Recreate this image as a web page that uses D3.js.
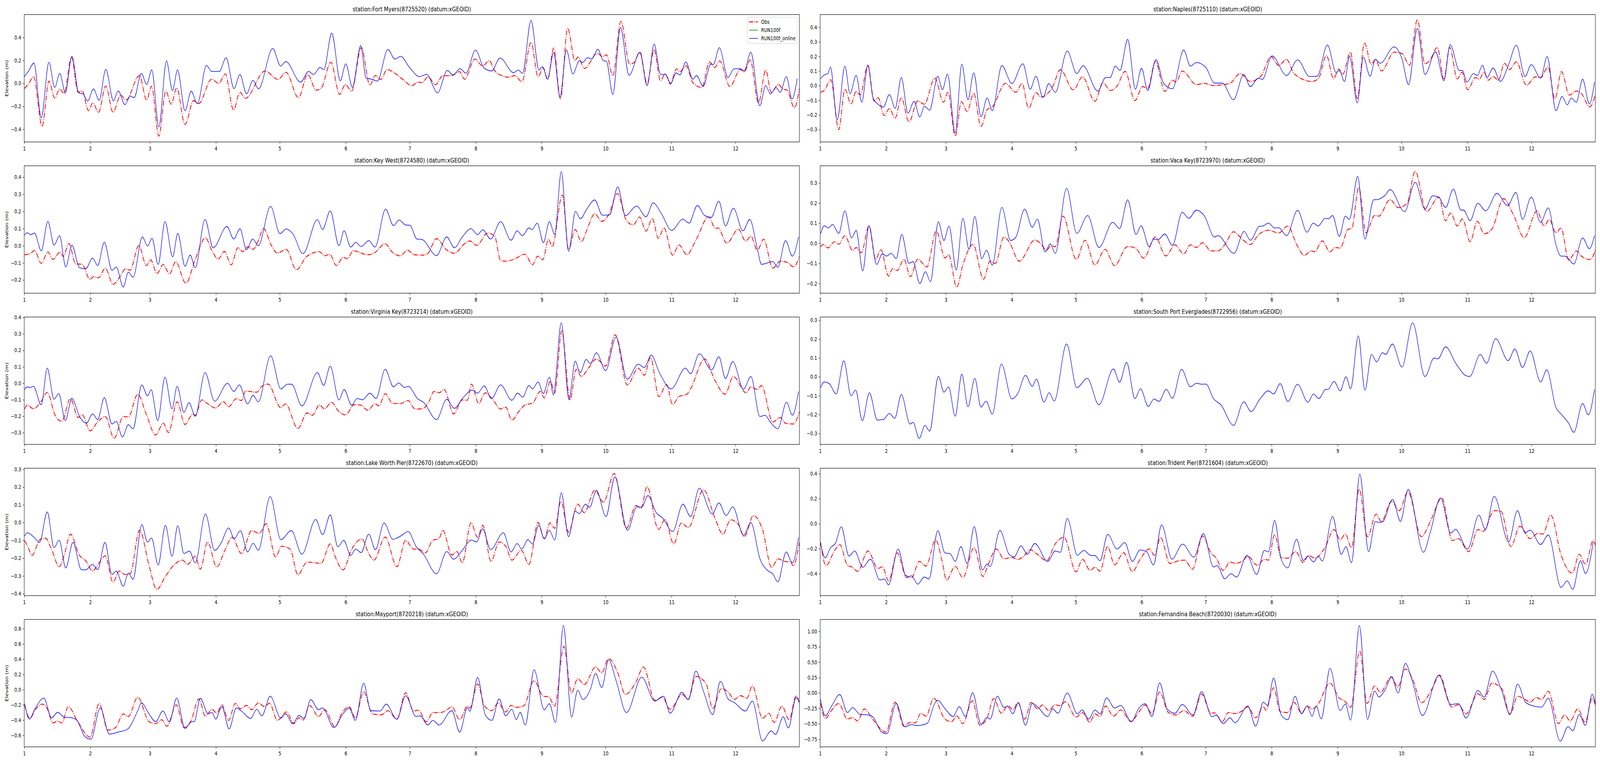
<!DOCTYPE html>
<html>
<head>
<meta charset="utf-8">
<script src="https://cdn.jsdelivr.net/npm/d3@7"></script>
<style>
  html, body { margin: 0; padding: 0; background: #fff; overflow: hidden; }
  svg { display: block; width: 100vw; height: 100vh; font-family: "DejaVu Sans", sans-serif; }
</style>
</head>
<body>
<div id="chart"></div>
<script>
// day of year (0 = Jan 1) and elevation (m) at turning points
const fortMyersObs = [[0,-0.045],[1.9,-0.009],[4.4,0.059],[8.4,-0.374],[11.6,0.02],[14.3,-0.127],[16.7,-0.048],[18.7,-0.088],[22.2,0.227],[25.3,-0.077],[27.2,-0.065],[30.2,-0.238],[32.2,-0.17],[34.9,-0.252],[38.3,-0.023],[41.7,-0.252],[45.3,-0.102],[47.8,-0.145],[54.1,0.068],[57.5,-0.145],[59.8,-0.025],[63.2,-0.459],[66.5,-0.065],[69,-0.181],[71.6,-0.04],[75.5,-0.357],[79.5,-0.15],[81.9,-0.176],[88,0.036],[91.4,0],[94.4,0.082],[98.3,-0.232],[101.3,-0.077],[103.8,-0.13],[113.1,0.108],[119.2,0.034],[122.9,0.096],[128.8,-0.125],[133.1,0.079],[137.1,-0.059],[139.5,-0.04],[144,0.184],[148.1,-0.096],[150.8,-0.009],[153.7,-0.068],[158.3,0.312],[162.3,-0.015],[165,0.07],[167.4,0.034],[170.4,0.121],[172.8,0.104],[177.7,0.036],[182,-0.02],[184.8,0.011],[186.8,0.006],[189.6,0.057],[193.2,-0.011],[196.5,0.066],[200.7,0.068],[204.4,0.102],[206.8,0.036],[211.6,0.212],[215.3,0.151],[218.3,0.198],[221.3,0.102],[227.4,0.054],[230.4,0.068],[233.7,0.014],[238,0.357],[241.3,0.057],[243.7,0.136],[245.8,0.032],[248.6,0.308],[251.8,-0.134],[255.2,0.481],[258.6,0.198],[260,0.229],[263.1,0.13],[269.1,0.263],[271.6,0.232],[273.4,0.249],[276.4,0.066],[280.2,0.54],[284.3,0.168],[286.4,0.181],[289.1,0.275],[292.5,-0.002],[295.8,0.294],[298.8,0.023],[301,0.085],[303.4,-0.006],[306.3,0.127],[307.9,0.102],[310.8,0.153],[314,0.006],[318.2,-0.036],[321.8,0.187],[324.2,0.138],[326.6,0.195],[331.4,-0.028],[336.3,0.122],[338.1,0.1],[340.9,0.204],[344.8,-0.17],[348.2,0.116],[350.8,-0.079],[354.2,-0.009],[356.3,-0.051],[358.1,-0.057],[361.7,-0.213],[364,-0.045]];
const fortMyersModel = [[0,0.057],[1.9,0.104],[4.6,0.177],[8,-0.3],[11.6,0.184],[14.3,-0.036],[16.7,0.087],[19.3,-0.083],[22.4,0.236],[25.6,-0.083],[27.5,-0.09],[29.8,-0.153],[32.5,-0.048],[35.2,-0.147],[38.3,0.122],[41.9,-0.153],[44.1,-0.065],[47.3,-0.185],[49.8,-0.11],[51.6,-0.125],[55,0.087],[57.5,-0.009],[59.9,0.119],[63.2,-0.38],[66.8,0.196],[69.6,-0.062],[72,0.117],[75.5,-0.238],[78.4,-0.068],[81.3,-0.176],[85.6,0.156],[88,0.104],[91.6,0.104],[94.8,0.223],[98.5,-0.045],[101.3,0.077],[104.4,-0.091],[107.4,0.026],[110,-0.048],[116.7,0.303],[120.4,0.151],[122.8,0.19],[129.8,0.011],[133.5,0.104],[135.9,0.077],[138.9,0.139],[140.7,0.119],[144.4,0.438],[148.4,0.023],[151,0.17],[154.1,-0.034],[158,0.329],[160.5,0.049],[163.2,0.036],[165.8,0.02],[170.8,0.295],[174,0.212],[176.8,0.235],[180.8,0.142],[185.6,0.059],[188.9,0.079],[194.1,-0.082],[198.7,0.113],[201.3,0.074],[204.7,0.128],[207.4,0.088],[211.9,0.289],[215.9,0.134],[219.5,0.108],[223.4,0.221],[229.8,0.093],[232,0.116],[234,0.088],[238,0.547],[241.7,0.116],[243.3,0.145],[245.8,0.04],[248.6,0.27],[251.6,-0.122],[254.6,0.292],[257.6,0.082],[260.7,0.198],[262.2,0.181],[264.5,0.224],[266.5,0.213],[269.4,0.297],[271.9,0.198],[273.4,0.193],[276.4,-0.096],[280,0.487],[284,0.07],[289.1,0.268],[292.5,-0.02],[295.8,0.342],[298.8,0.079],[301.2,0.077],[303.6,0],[306.1,0.091],[307.9,0.074],[310.7,0.187],[314,0.036],[315.7,0.068],[318.8,-0.026],[322.4,0.168],[323.6,0.164],[326.4,0.311],[330.5,0.051],[333.3,0.127],[336.3,0.127],[338.1,0.108],[341.2,0.272],[345.4,-0.195],[348.2,-0.02],[350.4,-0.093],[353,-0.036],[355,-0.077],[357.9,0.059],[360.5,-0.136],[363,0.042]];
const fortMyersLim = [-0.51, 0.599];
const fortMyersTicks = [-0.4, -0.2, 0, 0.2, 0.4];

const naplesObs = [[0.2,-0.045],[1.9,-0.033],[5,0.041],[8.7,-0.301],[11.6,-0.024],[14.5,-0.125],[16.9,-0.038],[18.8,-0.062],[22.4,0.141],[25.3,-0.104],[27.2,-0.082],[30.1,-0.205],[32.5,-0.155],[35.2,-0.221],[38.1,-0.082],[41.7,-0.247],[45.8,-0.104],[48.9,-0.127],[53.8,0.052],[57.9,-0.113],[60,-0.042],[63.4,-0.346],[66.3,-0.109],[69,-0.176],[72.1,-0.051],[75.5,-0.279],[78.4,-0.163],[80.8,-0.145],[87,0.016],[91.9,-0.045],[94.8,0.016],[97.9,-0.154],[101.3,-0.046],[103.7,-0.078],[109.2,-0.006],[112.8,0.11],[118.9,-0.029],[123.2,0.061],[129,-0.107],[132.8,0.021],[136.2,-0.033],[139.4,-0.002],[143.2,0.098],[147.8,-0.102],[151.4,-0.006],[153.8,-0.02],[157.4,0.168],[161.8,-0.038],[165.4,0.038],[167.1,0.025],[170,0.101],[176.7,0.007],[180.3,0.016],[185.2,0],[188.8,0.007],[192.4,0.016],[197.2,0.083],[202,0.029],[206.9,0.065],[211.7,0.199],[215.3,0.139],[219,0.181],[222.5,0.083],[231,0.029],[234.1,0.052],[237.7,0.208],[241.1,0.047],[243.5,0.114],[245.4,0.079],[249,0.23],[252.2,-0.087],[255.6,0.293],[258.8,0.146],[260.7,0.179],[263.6,0.101],[269.5,0.23],[273.2,0.22],[276.8,0.141],[280.4,0.452],[284,0.15],[286.4,0.177],[289.8,0.262],[292.9,0.047],[295.6,0.262],[299.2,0.047],[301.4,0.092],[304,-0.027],[307.7,0.056],[309.4,0.045],[311.8,0.092],[313.7,0.038],[316,0.063],[318.5,0.038],[321.3,0.154],[323.7,0.11],[326.9,0.163],[331.7,0.003],[335.8,0.061],[338.3,0.054],[341.8,0.128],[345,-0.091],[348.1,0.096],[351.8,-0.064],[355.1,-0.036],[357.5,-0.055],[361.4,-0.145],[364.3,-0.046]];
const naplesModel = [[0.2,0.047],[1.9,0.074],[3.6,0.083],[4.8,0.128],[8,-0.234],[11.6,0.134],[14,-0.055],[16.9,0.071],[19.5,-0.113],[22.4,0.137],[24.8,-0.082],[27.2,-0.127],[29.7,-0.146],[32.5,-0.06],[35.2,-0.155],[38.1,0.056],[41.2,-0.188],[44.1,-0.107],[46.8,-0.214],[48.9,-0.14],[51.4,-0.167],[55.2,0.065],[57.4,-0.027],[59.8,0.08],[63.4,-0.323],[66.5,0.148],[69.4,-0.096],[72.1,0.088],[75.5,-0.212],[78.4,-0.084],[80.8,-0.171],[85.3,0.137],[90,0.016],[95.2,0.15],[98.6,-0.024],[101.3,0.065],[104.6,-0.08],[107.3,0.014],[110.4,-0.045],[116,0.237],[120.5,0.083],[123.4,0.137],[130.4,-0.037],[134,0.056],[136.2,0.056],[138.6,0.134],[140.8,0.105],[144.4,0.317],[148,-0.024],[150.9,0.119],[153.8,-0.033],[157.7,0.179],[161.3,0.016],[165.4,-0.021],[170.7,0.244],[173.8,0.134],[176.7,0.159],[181.1,0.125],[185.2,0.018],[188.8,0.018],[194.1,-0.096],[198.9,0.077],[202,-0.006],[205.7,0.052],[207.6,0.043],[212.2,0.204],[219,0.07],[224.2,0.177],[229.8,0.063],[233.4,0.065],[238.2,0.279],[242.3,0.089],[243.8,0.104],[246.2,0.029],[248.6,0.202],[252.2,-0.118],[255.1,0.195],[258.2,0.065],[260.7,0.181],[263,0.154],[269.5,0.266],[273.2,0.184],[276.3,0.007],[280.4,0.393],[284,0.077],[289,0.232],[292.9,0.034],[295.8,0.281],[300.2,0.104],[301.6,0.105],[303.7,0.025],[306.8,0.083],[308.6,0.07],[311,0.141],[313.1,0.056],[316,0.121],[319.4,0.029],[323.1,0.137],[326.9,0.277],[331,0.063],[333.9,0.144],[338.3,0.052],[341.4,0.199],[345.5,-0.171],[348.4,-0.073],[350.8,-0.131],[352.7,-0.084],[355.1,-0.113],[358,0.045],[361.2,-0.125],[363.6,0.025]];
const naplesLim = [-0.385, 0.487];
const naplesTicks = [-0.3, -0.2, -0.1, 0, 0.1, 0.2, 0.3, 0.4];

const keyWestObs = [[0.2,-0.053],[3.1,-0.044],[4.8,-0.027],[8,-0.103],[11.1,-0.036],[13.5,-0.08],[16.9,-0.036],[18.3,-0.063],[21,0.013],[24.1,-0.105],[27.2,-0.109],[30.9,-0.197],[32.5,-0.181],[34.9,-0.187],[38.1,-0.131],[41.7,-0.225],[44.8,-0.184],[47.7,-0.134],[49.7,-0.143],[53.8,0],[57.4,-0.116],[59.3,-0.082],[62.4,-0.162],[65.3,-0.109],[68.2,-0.165],[71.1,-0.093],[75.9,-0.219],[80.3,-0.08],[85.1,0.046],[88,-0.025],[91.1,-0.078],[94,-0.033],[97.2,-0.112],[100.3,-0.012],[102.7,-0.035],[105.1,-0.006],[107.5,-0.021],[109.7,0.024],[112.4,0.1],[116,0.003],[118.9,-0.043],[123,-0.021],[127.8,-0.141],[132.6,-0.063],[138.6,-0.035],[141,-0.059],[143.5,-0.05],[146.6,-0.116],[149.7,-0.068],[151.7,-0.076],[154.5,-0.029],[161.3,-0.053],[164.2,-0.044],[169.5,0.011],[172.6,-0.035],[176.7,-0.059],[179.9,-0.025],[183.2,-0.053],[186.8,-0.055],[189.3,-0.048],[193.6,0.041],[198.4,-0.025],[202,-0.044],[206.9,0.013],[209.3,0.028],[212.4,0.002],[217.7,0.074],[220.9,0.056],[223.7,-0.086],[226.1,-0.09],[229.8,-0.08],[235.1,-0.05],[238.7,-0.111],[241.1,-0.061],[243.5,-0.082],[246.2,0.039],[247.9,-0.006],[252.7,0.296],[255.6,-0.021],[258.7,0.094],[261.6,0.024],[264.7,0.108],[267.9,0.187],[271.2,0.142],[274.4,0.18],[278.5,0.304],[282.8,0.147],[286,0.121],[288.9,0.168],[292,0.085],[294.9,0.159],[297.8,0.043],[300.4,0.104],[304.5,-0.055],[307.4,0.005],[311.2,-0.052],[315.4,0.032],[321.4,0.168],[324.6,0.1],[325.8,0.104],[329.9,0.015],[335.4,0.096],[338.8,0.026],[341.2,0.056],[344.3,-0.027],[347.2,0.038],[351.5,-0.131],[355.1,-0.09],[358.2,-0.097],[361.4,-0.124],[364,-0.063]];
const keyWestModel = [[0.2,0.062],[1.4,0.076],[3.1,0.064],[4.8,0.074],[8,-0.03],[11.1,0.142],[14,0.003],[16.6,0.058],[19.5,-0.124],[22.4,0.003],[26,-0.129],[28.9,-0.134],[32.1,-0.073],[34.5,-0.116],[37.6,0.02],[41.2,-0.144],[43.2,-0.124],[46.5,-0.241],[48.9,-0.154],[51.1,-0.184],[55.5,0.051],[57.9,-0.002],[60,0.043],[62.9,-0.109],[66.1,0.14],[69.7,-0.065],[72.1,0.071],[75.5,-0.12],[77.9,-0.055],[80.3,-0.128],[84.9,0.152],[88.7,-0.012],[95.2,0.112],[98.4,0.039],[101.3,0.099],[104.4,-0.023],[107.3,0.039],[109.9,0],[115.7,0.229],[120.1,0.07],[123,0.098],[126.1,0.07],[130.9,-0.046],[137.7,0.152],[140.1,0.094],[143.7,0.203],[147.8,0],[150.2,0.087],[153.3,-0.008],[155.7,0.02],[158.2,-0.005],[161.8,0.03],[164.7,-0.008],[169.7,0.213],[173.4,0.117],[176,0.15],[179.1,0.121],[181.1,0.119],[184.4,0.039],[186.8,0.036],[193.6,-0.058],[198.4,0.051],[202,-0.012],[205.7,0.051],[209.8,0.099],[212.9,0.064],[215.3,0.093],[219,0.039],[223.7,0.14],[228.6,0.032],[231.5,0.087],[233.9,0.058],[237,0.104],[238.4,0.094],[240.9,0.131],[243.8,0.018],[246.6,0.14],[249.1,0.066],[252.2,0.433],[255.6,-0.033],[258.9,0.2],[261.1,0.157],[264.2,0.214],[267.9,0.267],[271.5,0.178],[274.9,0.18],[278.7,0.343],[282.3,0.176],[287.6,0.231],[292,0.168],[295.3,0.25],[299.2,0.187],[304,0.089],[309.3,0.155],[312.2,0.132],[316.1,0.235],[319.5,0.176],[322.6,0.165],[326.2,0.26],[329.3,0.115],[333,0.219],[337.5,0.087],[340.7,0.153],[344.3,-0.021],[346.2,-0.109],[351.5,-0.093],[353.9,-0.126],[357.5,0.03],[360.7,-0.061],[363.6,0.051]];
const keyWestLim = [-0.277, 0.466];
const keyWestTicks = [-0.2, -0.1, 0, 0.1, 0.2, 0.3, 0.4];

const vacaKeyObs = [[0.2,-0.017],[1.4,-0.006],[3.6,-0.023],[6.8,0.008],[8.7,-0.005],[11.6,0.038],[15.2,-0.036],[16.9,-0.021],[19.3,-0.047],[22.9,0.086],[26,-0.079],[28.5,-0.032],[32.1,-0.163],[34,-0.126],[36.2,-0.135],[39.3,-0.079],[42.4,-0.166],[45.8,-0.079],[50.1,-0.118],[54.5,0.062],[58.6,-0.073],[60.3,-0.056],[64.1,-0.218],[67,-0.107],[71.8,-0.005],[76.7,-0.179],[79.8,-0.089],[82.2,-0.1],[86.3,0.031],[88.7,0.008],[93.5,-0.089],[100.8,0.016],[103.2,0.002],[106.3,-0.034],[108.5,-0.011],[110.4,-0.017],[114,0.135],[120.3,-0.081],[124.4,0.015],[129,-0.108],[133.8,-0.03],[138.2,-0.111],[144.2,-0.017],[147.8,-0.021],[151.9,-0.074],[157.4,0.031],[162.3,-0.063],[166.6,-0.008],[170.7,-0.053],[173.8,-0.008],[176.7,-0.021],[179.6,0.003],[183.5,-0.038],[186.8,-0.038],[190,-0.006],[194.1,0.057],[198.4,0.018],[202,-0.006],[205.7,0.041],[210.5,0.065],[215.3,0.051],[219.6,0.086],[223.7,-0.005],[227.4,-0.06],[230.5,-0.038],[232.2,-0.042],[235.8,0.012],[239.4,-0.043],[241.8,-0.021],[244.2,-0.024],[247.9,0.07],[249.6,0.073],[252.9,0.277],[256.3,0.052],[260.4,0.138],[262.3,0.135],[267.6,0.217],[271.5,0.177],[275.6,0.199],[279.4,0.358],[284.7,0.157],[290.5,0.23],[293.7,0.112],[296.1,0.151],[299.2,0.086],[301.6,0.122],[305.2,0.008],[308.6,0.109],[311.8,0.047],[315.4,0.07],[320.9,0.222],[325.8,0.135],[330.6,0.028],[336.6,0.161],[340,0.086],[342.4,0.119],[345.5,0.052],[347.9,0.076],[351.5,-0.084],[355.1,-0.038],[357.5,-0.064],[361.6,-0.081],[364.3,-0.024]];
const vacaKeyModel = [[0.2,0.047],[1.9,0.087],[3.9,0.076],[5.8,0.094],[8.7,0.049],[11.6,0.161],[14.7,0.027],[16.9,0.063],[20,-0.137],[22.9,0.087],[26.5,-0.105],[29.2,-0.052],[31.1,-0.064],[33.3,-0.05],[35.7,-0.076],[38.3,0.044],[41.7,-0.1],[43.6,-0.091],[46.8,-0.2],[49.4,-0.141],[51.8,-0.191],[55.5,0.107],[58.1,0.014],[60.5,0.085],[63.9,-0.133],[67,0.124],[69.9,-0.03],[72.6,0.133],[75.9,-0.076],[78.1,-0.034],[80.8,-0.109],[85.3,0.178],[89.4,0.014],[91.9,0.031],[96,0.17],[99.6,0.08],[102,0.12],[105.6,-0.043],[108,-0.003],[110.4,-0.05],[115.7,0.273],[120.5,0.049],[125.6,0.138],[130.9,-0.021],[137.4,0.104],[140.6,0.073],[144.4,0.216],[148.3,0.044],[150.7,0.087],[154.5,-0.017],[156.7,0.021],[158.6,0.018],[161.8,0.046],[165.4,-0.01],[170,0.154],[173.1,0.124],[176.7,0.165],[180.3,0.138],[185.2,0.031],[186.8,0.038],[194.3,-0.05],[199.1,0.059],[202,0.015],[206.4,0.085],[207.6,0.085],[210.5,0.1],[213.4,0.076],[215.3,0.078],[219,0.038],[224.2,0.164],[228.6,0.055],[231.5,0.1],[233.9,0.086],[237,0.123],[238.7,0.122],[240.6,0.138],[243.8,0.034],[246.6,0.135],[248.5,0.119],[252.4,0.332],[255.8,0.021],[259.9,0.216],[261.6,0.217],[265.4,0.24],[267.6,0.267],[274.4,0.157],[279.4,0.303],[284,0.17],[287.6,0.236],[290.5,0.229],[293.7,0.178],[297.3,0.269],[300.9,0.165],[302.1,0.165],[305.2,0.113],[308.8,0.199],[312.5,0.161],[317.8,0.248],[322.8,0.187],[326.7,0.253],[329.8,0.119],[333.9,0.229],[338.3,0.104],[341.9,0.176],[345.5,-0.008],[347.9,-0.064],[349.8,-0.064],[353.9,-0.103],[358,0.027],[361.2,-0.027],[363.6,0.038]];
const vacaKeyLim = [-0.248, 0.385];
const vacaKeyTicks = [-0.2, -0.1, 0, 0.1, 0.2, 0.3];

const virginiaKeyObs = [[0.2,-0.156],[1.4,-0.131],[4.3,-0.155],[8,-0.109],[10.8,-0.055],[14.5,-0.194],[17.6,-0.231],[21.7,-0.093],[25.3,-0.208],[27.2,-0.19],[30.9,-0.289],[34.5,-0.234],[38.1,-0.202],[42.2,-0.334],[46.5,-0.202],[48.9,-0.204],[53.3,-0.066],[57.4,-0.192],[61.7,-0.314],[65.3,-0.242],[67.7,-0.299],[71.8,-0.113],[75.5,-0.25],[79.1,-0.188],[80.3,-0.194],[83.4,-0.101],[86.3,-0.126],[89.9,-0.15],[93.5,-0.111],[96,-0.142],[99.6,-0.093],[102,-0.105],[103.9,-0.047],[109.2,-0.054],[111.6,-0.018],[114.5,-0.005],[120.5,-0.148],[122.7,-0.125],[128.5,-0.275],[132.8,-0.18],[135.3,-0.194],[138.6,-0.131],[141,-0.156],[144.2,-0.115],[147.8,-0.172],[150.9,-0.192],[155,-0.129],[158.2,-0.133],[161.3,-0.164],[164.7,-0.125],[166.6,-0.137],[169.5,-0.063],[173.1,-0.123],[176.7,-0.123],[180.3,-0.105],[183.5,-0.156],[186.8,-0.155],[190,-0.113],[192.4,-0.05],[194.8,-0.058],[197.2,-0.038],[201.6,-0.186],[205.7,-0.101],[208.1,-0.103],[210,-0.005],[213.4,-0.123],[216.5,-0.058],[220.1,-0.1],[223.7,-0.156],[226.1,-0.145],[229,-0.224],[232.2,-0.172],[235.3,-0.131],[238.7,-0.121],[242.3,-0.05],[244.2,-0.089],[247.1,0.013],[249.1,-0.058],[252.4,0.318],[256.3,-0.101],[259.2,0.085],[261.6,0.041],[264.7,0.087],[268.7,0.148],[273,0.104],[277.5,0.294],[283.2,-0.01],[288.3,0.092],[291.2,0.049],[294.1,0.156],[298,-0.081],[301.6,-0.008],[304.5,-0.129],[307.4,-0.081],[311.2,-0.066],[312.9,-0.034],[319.5,0.148],[324.3,0.019],[329.1,-0.066],[333,0.041],[339,-0.058],[341.2,-0.022],[344.3,-0.038],[346.2,-0.014],[351.5,-0.235],[355.1,-0.208],[357.5,-0.243],[361.2,-0.247],[364.3,-0.16]];
const virginiaKeyModel = [[0.2,-0.038],[1.4,-0.022],[2.7,-0.026],[4.3,-0.018],[8,-0.131],[10.8,0.092],[14,-0.097],[16.2,-0.062],[19.3,-0.226],[22.4,-0.092],[26,-0.202],[29.2,-0.242],[32.1,-0.186],[34.5,-0.22],[37.6,-0.087],[41.2,-0.247],[43.2,-0.231],[46.1,-0.326],[48.9,-0.251],[51.1,-0.276],[55.2,-0.01],[57.9,-0.077],[59.6,-0.039],[62.7,-0.226],[66.1,0.037],[69.4,-0.155],[71.8,-0.018],[75,-0.176],[77.4,-0.118],[80.3,-0.2],[84.9,0.065],[89.4,-0.109],[95.5,0],[98.4,-0.05],[101,-0.01],[104.9,-0.125],[107.5,-0.073],[109.9,-0.113],[115.7,0.167],[120.5,-0.034],[123.7,-0.005],[125.6,-0.006],[130.4,-0.137],[137.7,0.065],[140.6,-0.013],[143.7,0.104],[147.8,-0.101],[150.2,-0.038],[153.8,-0.134],[156.2,-0.093],[158.9,-0.1],[162.3,-0.06],[165.2,-0.092],[169.5,0.085],[173.4,-0.022],[175.8,0.002],[178.7,-0.026],[180.3,-0.018],[184.7,-0.093],[187.6,-0.117],[193.6,-0.22],[198.4,-0.097],[202,-0.152],[205.7,-0.093],[210.5,-0.042],[212.9,-0.06],[216,-0.016],[219.4,-0.093],[223.7,-0.01],[229,-0.103],[231.7,-0.06],[234.1,-0.084],[237,-0.014],[238.7,-0.034],[241.3,0.008],[243.8,-0.062],[246.6,0.037],[248.5,-0.071],[252.2,0.367],[255.8,-0.101],[258.7,0.134],[261.1,0.065],[263.9,0.145],[265.8,0.12],[268.7,0.185],[273,0.077],[277.9,0.28],[283.2,0.025],[288.3,0.116],[291.2,0.096],[294.4,0.171],[298.4,0.061],[303.8,-0.034],[310.5,0.092],[312.9,0.058],[317,0.179],[322.8,0.081],[326.2,0.161],[329.3,0.029],[332.7,0.132],[337.8,-0.036],[341.2,0.041],[345.5,-0.202],[347.9,-0.194],[350.3,-0.235],[353.9,-0.275],[358,-0.115],[360.7,-0.194],[363.6,-0.05]];
const virginiaKeyLim = [-0.371, 0.402];
const virginiaKeyTicks = [-0.3, -0.2, -0.1, 0, 0.1, 0.2, 0.3, 0.4];

const southPortObs = [];
const southPortModel = [[0.2,-0.057],[1.9,-0.027],[4.3,-0.036],[7.5,-0.091],[11.1,0.085],[14.5,-0.101],[16.6,-0.07],[19.8,-0.232],[23.1,-0.084],[26.8,-0.229],[29.7,-0.226],[32.5,-0.194],[35,-0.22],[38.1,-0.094],[42.2,-0.25],[43.6,-0.241],[46.5,-0.326],[49.2,-0.257],[51.4,-0.288],[55.5,0.003],[58.1,-0.081],[60.3,-0.053],[63.4,-0.208],[66.5,0.014],[69.4,-0.158],[72.6,-0.008],[75.5,-0.16],[77.9,-0.129],[80.8,-0.197],[85.1,0.068],[90,-0.117],[92.8,-0.088],[96.4,0.008],[99.6,-0.05],[101.5,-0.012],[105.1,-0.134],[107.5,-0.084],[109.9,-0.128],[115.7,0.174],[120.5,-0.057],[125.4,-0.008],[130.9,-0.148],[137.7,0.042],[140.6,-0.029],[143.9,0.077],[147.8,-0.115],[150.4,-0.063],[154.1,-0.157],[156.7,-0.117],[159.1,-0.13],[162.5,-0.066],[165.4,-0.114],[169.7,0.04],[173.8,-0.053],[176.7,-0.034],[179.1,-0.039],[181.1,-0.038],[184.7,-0.115],[188.3,-0.15],[194.1,-0.257],[198.9,-0.132],[202.3,-0.184],[206.4,-0.119],[210.5,-0.074],[212.9,-0.091],[216,-0.036],[219.6,-0.13],[224.2,-0.039],[229,-0.134],[231.7,-0.091],[234.1,-0.115],[237.5,-0.066],[238.4,-0.067],[241.3,-0.024],[244.2,-0.074],[246.9,0],[249.1,-0.063],[252.7,0.217],[255.8,-0.07],[258.9,0.119],[261.3,0.079],[264,0.128],[265.5,0.119],[268.7,0.174],[273.2,0.052],[278.2,0.286],[284,0.002],[288.3,0.1],[290,0.095],[293.7,0.159],[298.5,0.071],[303.3,0.006],[305,0.002],[310,0.119],[312.9,0.072],[317.2,0.202],[323.1,0.086],[326.2,0.148],[329.8,0.05],[333.4,0.137],[338.3,-0.027],[341.2,0.037],[345.5,-0.163],[347.9,-0.197],[351.5,-0.246],[353.9,-0.294],[358,-0.141],[360.7,-0.201],[363.6,-0.067]];
const southPortLim = [-0.358, 0.317];
const southPortTicks = [-0.3, -0.2, -0.1, 0, 0.1, 0.2, 0.3];

const lakeWorthObs = [[0.2,-0.101],[1.9,-0.141],[3.6,-0.185],[7.5,-0.094],[9.9,-0.087],[12.8,-0.149],[16.4,-0.248],[18.8,-0.182],[21.7,-0.065],[26,-0.185],[28.9,-0.215],[32.1,-0.272],[35,-0.229],[38.1,-0.187],[41.7,-0.336],[44.6,-0.272],[47.3,-0.292],[49.7,-0.288],[54.2,-0.043],[58.6,-0.24],[62.2,-0.376],[66.3,-0.303],[70.6,-0.235],[74.3,-0.211],[76.7,-0.235],[80.3,-0.189],[82.7,-0.262],[86.1,-0.109],[90.4,-0.25],[94,-0.162],[97.6,-0.083],[102,-0.174],[106.8,-0.045],[110.4,-0.061],[113.6,-0.006],[118.1,-0.194],[120.8,-0.133],[124.9,-0.149],[128.5,-0.294],[132.8,-0.222],[139.4,-0.229],[143.7,-0.12],[146.1,-0.194],[149.7,-0.266],[153.8,-0.149],[158.6,-0.092],[161.5,-0.167],[164.2,-0.211],[169.5,-0.081],[175,-0.248],[179.1,-0.099],[182.8,-0.149],[185.2,-0.149],[188.3,-0.171],[191.9,-0.099],[194.8,-0.09],[196.5,-0.043],[200.8,-0.182],[203.2,-0.163],[205.7,-0.226],[209.8,-0.001],[212.9,-0.083],[215.3,-0.015],[219.2,-0.218],[223,-0.109],[226.1,-0.133],[229,-0.211],[233.4,-0.156],[237,-0.235],[241.3,0.001],[244.2,-0.09],[246.9,-0.001],[249.1,-0.032],[252,0.119],[255.6,-0.054],[259.9,0.104],[263,0.056],[267.9,0.183],[272,0.115],[277,0.276],[282.8,-0.032],[287.2,0.097],[289.6,0.08],[292.5,0.203],[297.8,-0.039],[300.9,0.018],[305,-0.12],[308.6,-0.001],[311.8,-0.028],[319,0.185],[324.5,0.02],[328.1,-0.065],[331.7,0.016],[335.3,-0.01],[338.2,-0.079],[342.4,0.04],[346.7,-0.039],[351,-0.253],[353.9,-0.204],[357,-0.218],[359.9,-0.222],[361.1,-0.243],[364,-0.109]];
const lakeWorthModel = [[0.2,-0.076],[1.4,-0.057],[4.3,-0.079],[7.2,-0.112],[10.8,0.06],[14,-0.141],[16.4,-0.098],[19.5,-0.255],[22.9,-0.111],[26.8,-0.265],[28.9,-0.266],[32.1,-0.235],[34.5,-0.265],[37.9,-0.112],[41.2,-0.292],[43.2,-0.273],[46.5,-0.358],[48.9,-0.284],[51.1,-0.319],[55.2,-0.011],[57.9,-0.109],[59.8,-0.087],[62.9,-0.238],[66.3,-0.015],[69.4,-0.189],[72.1,-0.017],[75,-0.174],[77.6,-0.16],[80.3,-0.226],[85.1,0.049],[89.4,-0.156],[92.3,-0.118],[96,-0.03],[98.6,-0.09],[101.5,-0.046],[104.9,-0.165],[107.5,-0.116],[109.9,-0.155],[115.5,0.146],[120.5,-0.096],[125.4,-0.045],[130.4,-0.177],[136.9,0.018],[140.1,-0.068],[143.7,0.043],[147.3,-0.136],[150,-0.099],[153.3,-0.184],[155.7,-0.149],[158.2,-0.169],[161.8,-0.065],[164.9,-0.152],[169,-0.002],[173.1,-0.094],[176.7,-0.076],[180.3,-0.05],[184,-0.134],[187.6,-0.18],[193.6,-0.288],[198.4,-0.163],[201.6,-0.206],[205.7,-0.156],[210,-0.098],[212.4,-0.109],[215.3,-0.035],[219,-0.152],[225,-0.057],[228.6,-0.165],[231.5,-0.118],[233.6,-0.149],[236.5,-0.096],[238.7,-0.12],[241.6,-0.015],[244.2,-0.092],[246.6,-0.043],[249.1,-0.098],[252.2,0.168],[255.6,-0.079],[258.7,0.064],[260.7,0.051],[263.5,0.104],[265.5,0.086],[268.7,0.181],[273.2,0.034],[277.3,0.256],[283.3,-0.043],[287.7,0.089],[290,0.088],[292.9,0.152],[296.8,0.056],[299.7,0.027],[304.5,-0.05],[309.3,0.104],[312.9,0.034],[317,0.194],[323.1,0.049],[326.2,0.111],[329.6,0.04],[332.7,0.089],[337.8,-0.072],[341.2,0],[345.5,-0.204],[349.1,-0.27],[351.5,-0.288],[353.9,-0.334],[357.8,-0.165],[360.7,-0.226],[363.6,-0.083]];
const lakeWorthLim = [-0.411, 0.306];
const lakeWorthTicks = [-0.4, -0.3, -0.2, -0.1, 0, 0.1, 0.2, 0.3];

const tridentObs = [[0.2,-0.15],[2.7,-0.335],[6.8,-0.213],[9.2,-0.166],[12.8,-0.332],[15.2,-0.348],[17.6,-0.381],[22.4,-0.218],[27.2,-0.358],[29.2,-0.343],[32.1,-0.457],[36.2,-0.233],[40,-0.41],[42.9,-0.431],[46.5,-0.301],[49.7,-0.338],[54.2,-0.129],[57.4,-0.311],[59.3,-0.452],[63.4,-0.34],[67,-0.431],[72.3,-0.19],[76.4,-0.421],[79.1,-0.317],[82.7,-0.202],[86.3,-0.28],[89.9,-0.27],[92.8,-0.285],[95.9,-0.254],[98.4,-0.207],[102,-0.244],[106.3,-0.296],[110.4,-0.16],[114.5,-0.108],[120.1,-0.384],[123.2,-0.285],[126.8,-0.374],[129,-0.348],[131.4,-0.379],[135,-0.181],[138.2,-0.329],[142.5,-0.231],[146.6,-0.384],[150.2,-0.285],[154.5,-0.202],[157,-0.254],[159.8,-0.108],[164.2,-0.317],[168.3,-0.296],[171.2,-0.291],[174.8,-0.364],[179.6,-0.098],[183.5,-0.233],[185.9,-0.273],[189.3,-0.374],[192.4,-0.306],[194.8,-0.317],[198.4,-0.296],[200.8,-0.259],[205.2,-0.332],[208.6,-0.285],[210.5,-0.291],[213.4,-0.088],[216.5,-0.27],[219.6,-0.275],[223.3,-0.223],[226.9,-0.311],[229.3,-0.252],[232.2,-0.275],[237,-0.192],[241.3,-0.046],[244.2,-0.129],[246.6,-0.082],[249.5,-0.192],[253.1,0.279],[257,-0.103],[261.1,0.077],[263.5,0.017],[268.3,0.181],[271.9,0.105],[276,0.256],[282.3,-0.103],[286.5,0.017],[291.9,0.206],[296.8,-0.134],[299.7,-0.119],[304.5,-0.223],[308.9,-0.046],[311.3,-0.061],[316.5,0.105],[319.7,0.1],[324.3,-0.181],[328.6,-0.02],[333.4,-0.119],[337,-0.077],[339.4,-0.082],[343.1,0.069],[347.9,-0.249],[353.2,-0.395],[356.4,-0.244],[359.4,-0.325],[363,-0.134],[364.3,-0.192]];
const tridentModel = [[0.2,-0.16],[2.4,-0.273],[4.8,-0.192],[7.2,-0.155],[9.9,-0.025],[13.5,-0.259],[16.2,-0.218],[20,-0.348],[23.6,-0.283],[28,-0.45],[30.1,-0.442],[32.1,-0.489],[36.6,-0.202],[40.5,-0.431],[42.9,-0.416],[45.8,-0.483],[48.9,-0.426],[51.1,-0.442],[55.2,-0.056],[58.6,-0.233],[61,-0.239],[63.4,-0.301],[66.1,-0.183],[69,-0.317],[72.3,-0.023],[76.2,-0.369],[78.4,-0.322],[79.8,-0.343],[84.4,-0.054],[88.7,-0.244],[91.1,-0.265],[94.3,-0.176],[97.2,-0.244],[100.8,-0.158],[106.8,-0.301],[110.4,-0.218],[112.8,-0.228],[116,0.043],[120.8,-0.252],[123.7,-0.213],[127.3,-0.254],[129,-0.254],[131.4,-0.296],[135,-0.085],[139.4,-0.202],[143,-0.15],[146.6,-0.301],[150.2,-0.21],[153.3,-0.223],[156.5,-0.329],[160.3,-0.009],[165.2,-0.283],[170.2,-0.163],[175.5,-0.267],[179.9,-0.079],[184.7,-0.346],[186.4,-0.335],[190,-0.44],[192.9,-0.4],[195.5,-0.426],[200.4,-0.254],[205,-0.405],[208.6,-0.213],[210.5,-0.225],[213.4,0.027],[216.5,-0.285],[219.6,-0.353],[223.7,-0.124],[226.9,-0.294],[229,-0.259],[231.7,-0.306],[233.9,-0.259],[235.8,-0.298],[240.6,0.058],[244.7,-0.244],[246.9,-0.183],[249.5,-0.311],[253.4,0.397],[257.5,-0.223],[260.7,0.017],[262.3,0.011],[264.2,0.017],[268.8,0.194],[272.5,0.019],[276.1,0.275],[283.3,-0.228],[286.5,-0.067],[291.3,0.206],[296.1,-0.075],[298.3,-0.044],[304,-0.202],[309.3,0.069],[312.4,-0.046],[316.5,0.22],[323.3,-0.145],[327.4,0.105],[331,-0.072],[333.4,-0.051],[338.3,-0.166],[341.9,-0.09],[347.9,-0.509],[350.8,-0.457],[353.4,-0.525],[357,-0.296],[359.4,-0.398],[363,-0.145]];
const tridentLim = [-0.575, 0.444];
const tridentTicks = [-0.4, -0.2, 0, 0.2, 0.4];

const mayportObs = [[0.2,-0.207],[2.7,-0.378],[5.1,-0.267],[8.4,-0.19],[10.8,-0.25],[13.5,-0.438],[15.7,-0.412],[17.6,-0.438],[20.7,-0.224],[24.8,-0.404],[30.9,-0.623],[35.2,-0.181],[39.3,-0.532],[42.9,-0.498],[46.5,-0.318],[48.9,-0.353],[53.3,-0.099],[58.6,-0.421],[61.7,-0.447],[64.6,-0.395],[67,-0.481],[71.4,-0.199],[75,-0.498],[78.4,-0.404],[82,-0.122],[85.1,-0.349],[88.2,-0.258],[90.4,-0.31],[92.8,-0.199],[96,-0.404],[99.1,-0.181],[101.5,-0.25],[104.4,-0.207],[106.8,-0.264],[110,-0.173],[112.8,-0.224],[115.2,-0.178],[118.9,-0.404],[123.2,-0.293],[126.6,-0.447],[129,-0.37],[130.9,-0.4],[134,-0.207],[138.2,-0.353],[141.1,-0.264],[146,-0.489],[149,-0.315],[152.6,-0.224],[155.5,-0.37],[159.4,-0.027],[163.5,-0.318],[167.6,-0.332],[170.7,-0.276],[175,-0.387],[179.1,-0.041],[182.8,-0.281],[185.2,-0.27],[188.8,-0.421],[191.9,-0.301],[195.5,-0.301],[198.4,-0.267],[200.8,-0.224],[204.5,-0.395],[208.1,-0.216],[209.3,-0.241],[212.9,0.075],[216.1,-0.212],[219.6,-0.276],[222.5,-0.173],[226.1,-0.293],[228.6,-0.207],[231,-0.233],[234.6,-0.212],[239.4,0.118],[243.8,-0.087],[246.2,-0.092],[249.1,-0.216],[253.4,0.568],[257,-0.045],[259.9,0.144],[263,0.067],[268.3,0.298],[271.2,0.221],[274.4,0.409],[278.5,0.238],[282.3,-0.062],[287.2,0.096],[290.8,0.298],[296.1,-0.139],[299.7,-0.099],[303.3,-0.258],[308.9,-0.062],[311.8,-0.13],[315.4,0.175],[320.2,0.079],[323.3,-0.25],[327.4,0.015],[331,-0.045],[333.4,-0.13],[336.3,-0.079],[339.4,-0.113],[341.9,0.05],[346.7,-0.378],[349.6,-0.31],[352.2,-0.43],[355.8,-0.216],[359.2,-0.395],[362.5,-0.079],[364.3,-0.216]];
const mayportModel = [[0.2,-0.185],[2.4,-0.387],[5.1,-0.25],[9.2,-0.11],[12.8,-0.37],[15.7,-0.298],[18.8,-0.361],[22.4,-0.37],[24.8,-0.404],[28.5,-0.618],[31.3,-0.652],[35.7,-0.241],[40,-0.584],[44.1,-0.558],[48.5,-0.52],[53.3,-0.276],[55,-0.173],[58.6,-0.318],[61.7,-0.421],[65.1,-0.281],[68.2,-0.424],[71.6,-0.11],[75.5,-0.51],[78.8,-0.418],[79.8,-0.421],[82.7,-0.113],[86.3,-0.315],[88.2,-0.301],[89.9,-0.387],[92.8,-0.224],[96.2,-0.515],[99.6,-0.241],[102,-0.281],[106.3,-0.378],[109.2,-0.258],[111.6,-0.344],[115.5,-0.087],[120.5,-0.373],[122.7,-0.318],[126.1,-0.447],[129,-0.339],[131.4,-0.378],[134.5,-0.13],[138.2,-0.264],[140.1,-0.241],[145.4,-0.498],[149.7,-0.318],[152.6,-0.241],[155.5,-0.404],[159.4,0.084],[162.7,-0.276],[167.1,-0.281],[170,-0.19],[175,-0.39],[179.1,-0.082],[184,-0.353],[185.9,-0.344],[189.5,-0.464],[191.9,-0.404],[194.8,-0.464],[200.8,-0.276],[204.5,-0.558],[208.1,-0.236],[209.3,-0.284],[212.9,0.161],[216.5,-0.332],[219.6,-0.404],[223,-0.122],[226.1,-0.344],[229,-0.258],[231,-0.395],[232.9,-0.298],[235.3,-0.464],[239.4,0.26],[244.2,-0.264],[246.6,-0.185],[249.5,-0.43],[253.2,0.845],[257,-0.361],[259.9,-0.007],[262.3,-0.13],[265.9,0.007],[268.3,0.212],[271.2,0.027],[274.4,0.392],[278,0.113],[282.8,-0.301],[290,0.164],[296.1,-0.151],[300.2,-0.087],[303.3,-0.31],[308.9,-0.036],[311.8,-0.13],[315.4,0.243],[319,-0.024],[323.3,-0.327],[326.9,0.11],[330.5,-0.122],[333.4,-0.168],[338.7,-0.281],[341.9,-0.151],[346.7,-0.674],[350.8,-0.541],[352.8,-0.589],[356.4,-0.356],[358.8,-0.503],[362.5,-0.104],[364.3,-0.181]];
const mayportLim = [-0.752, 0.922];
const mayportTicks = [-0.6, -0.4, -0.2, 0, 0.2, 0.4, 0.6, 0.8];

const fernandinaObs = [[0.2,-0.169],[2.4,-0.412],[5.5,-0.275],[8.7,-0.169],[12.8,-0.423],[15.2,-0.397],[17.6,-0.455],[20.7,-0.258],[24.8,-0.433],[30.9,-0.634],[35.2,-0.148],[39.3,-0.539],[42.2,-0.476],[44.6,-0.486],[47.3,-0.328],[49.7,-0.376],[53.3,-0.085],[58.6,-0.423],[61.7,-0.465],[64.1,-0.37],[67,-0.497],[71.4,-0.127],[75,-0.524],[78.4,-0.402],[81.5,-0.089],[85.1,-0.328],[88,-0.207],[90.7,-0.271],[92.8,-0.148],[96,-0.423],[99.1,-0.152],[102,-0.258],[104.4,-0.195],[107.3,-0.285],[110.4,-0.19],[112.8,-0.207],[115.2,-0.137],[120.1,-0.391],[123.2,-0.317],[126.6,-0.476],[129,-0.338],[131.4,-0.381],[134,-0.211],[137.7,-0.376],[141.1,-0.275],[146,-0.465],[149.5,-0.317],[152.6,-0.195],[155.8,-0.334],[159.4,0.017],[163.5,-0.317],[167.1,-0.355],[170.7,-0.285],[175,-0.376],[179.1,-0.017],[183.5,-0.328],[185.2,-0.321],[188.8,-0.465],[191.7,-0.317],[194.8,-0.334],[198.4,-0.285],[200.8,-0.222],[204.5,-0.402],[208.1,-0.222],[209.3,-0.279],[212.9,0.085],[216.1,-0.307],[219.6,-0.317],[222.5,-0.152],[226.1,-0.328],[228.6,-0.211],[231,-0.258],[233.4,-0.201],[239.4,0.159],[243.8,-0.085],[246.2,-0.127],[249.1,-0.233],[253.4,0.681],[256.8,-0.169],[260.4,0.116],[263,0.011],[268.3,0.264],[271.2,0.095],[274.8,0.391],[278.5,0.201],[282.3,-0.159],[287.6,0.085],[290.8,0.292],[296.6,-0.228],[299.7,-0.19],[303.3,-0.338],[308.9,-0.011],[311.8,-0.106],[315.4,0.159],[320.2,0.063],[323.9,-0.349],[327.5,-0.053],[331.1,-0.106],[333.4,-0.148],[336.3,-0.074],[338.8,-0.106],[341.9,0.027],[346.7,-0.497],[349.6,-0.355],[352.2,-0.455],[355.8,-0.254],[359.2,-0.476],[362.5,-0.085],[364.3,-0.233]];
const fernandinaModel = [[0.2,-0.106],[2.4,-0.37],[5.5,-0.201],[9.2,-0.025],[12.8,-0.317],[15.2,-0.237],[18.8,-0.349],[22.4,-0.355],[24.8,-0.391],[28.9,-0.634],[31.3,-0.66],[35.7,-0.169],[39.8,-0.55],[42.9,-0.512],[45.3,-0.529],[50.1,-0.497],[53.8,-0.169],[55,-0.116],[59.1,-0.275],[62.4,-0.381],[65.3,-0.222],[68.2,-0.381],[71.6,0.004],[75.5,-0.507],[78.4,-0.397],[79.8,-0.423],[83.2,-0.053],[86.3,-0.233],[88,-0.216],[90.4,-0.338],[93.1,-0.159],[96.4,-0.524],[99.6,-0.169],[102,-0.222],[106.8,-0.381],[109.2,-0.258],[111.6,-0.328],[116,0],[120.8,-0.338],[123,-0.275],[126.1,-0.423],[129,-0.275],[131.4,-0.338],[134.5,-0.08],[138.2,-0.243],[141.1,-0.201],[146.1,-0.461],[149.7,-0.243],[152.6,-0.173],[155.8,-0.381],[159.4,0.165],[163,-0.264],[166.6,-0.328],[170,-0.186],[175,-0.355],[179.1,0.021],[184,-0.385],[185.9,-0.359],[189.3,-0.497],[192.4,-0.402],[194.8,-0.482],[200.8,-0.211],[204.5,-0.539],[208.1,-0.148],[210,-0.201],[212.9,0.243],[216.5,-0.355],[219.6,-0.433],[223,-0.053],[226.1,-0.338],[228.6,-0.211],[231,-0.376],[232.9,-0.211],[235.3,-0.419],[239.4,0.397],[244.2,-0.285],[246.6,-0.18],[249.1,-0.44],[253.2,1.095],[257,-0.427],[260.4,0.032],[262.3,-0.063],[265.4,0.059],[268.3,0.26],[271.4,0],[274.8,0.48],[278,0.201],[282.8,-0.364],[290.5,0.285],[296.1,-0.186],[299.7,-0.173],[303.3,-0.406],[308.9,0.042],[311.8,-0.068],[315.7,0.355],[319.8,0.063],[323.9,-0.338],[327.5,0.144],[331.1,-0.144],[334,-0.201],[338.8,-0.228],[341.9,-0.085],[347.5,-0.782],[351.2,-0.545],[353.4,-0.613],[356.4,-0.349],[359.3,-0.524],[362.5,-0.021],[364.3,-0.222]];
const fernandinaLim = [-0.874, 1.193];
const fernandinaTicks = [-0.75, -0.5, -0.25, 0, 0.25, 0.5, 0.75, 1.0];

const stationNames = ['Fort Myers(8725520)', 'Naples(8725110)', 'Key West(8724580)', 'Vaca Key(8723970)',
  'Virginia Key(8723214)', 'South Port Everglades(8722956)', 'Lake Worth Pier(8722670)', 'Trident Pier(8721604)',
  'Mayport(8720218)', 'Fernandina Beach(8720030)'];
const seriesNames = ['Obs', 'RUN100f', 'RUN100f_online'];

const panels = [
  {obs: fortMyersObs, model: fortMyersModel, lim: fortMyersLim, ticks: fortMyersTicks},
  {obs: naplesObs, model: naplesModel, lim: naplesLim, ticks: naplesTicks},
  {obs: keyWestObs, model: keyWestModel, lim: keyWestLim, ticks: keyWestTicks},
  {obs: vacaKeyObs, model: vacaKeyModel, lim: vacaKeyLim, ticks: vacaKeyTicks},
  {obs: virginiaKeyObs, model: virginiaKeyModel, lim: virginiaKeyLim, ticks: virginiaKeyTicks},
  {obs: southPortObs, model: southPortModel, lim: southPortLim, ticks: southPortTicks},
  {obs: lakeWorthObs, model: lakeWorthModel, lim: lakeWorthLim, ticks: lakeWorthTicks},
  {obs: tridentObs, model: tridentModel, lim: tridentLim, ticks: tridentTicks},
  {obs: mayportObs, model: mayportModel, lim: mayportLim, ticks: mayportTicks},
  {obs: fernandinaObs, model: fernandinaModel, lim: fernandinaLim, ticks: fernandinaTicks}
].map((p, i) => Object.assign(p, {title: 'station:' + stationNames[i] + ' (datum:xGEOID)'}));

const width = 5150, height = 1950;
const axW = 2495, axH = 326;
const colX = [78, 2640];
const rowY = r => 37.3 + 387 * r;
const fs = 13.9;
const colors = {obs: '#ff0000', run: '#008000', online: '#0000ff'};
const obsDash = '13.3,3.3,2.1,3.3';

// decimals needed so that every tick label is exact (0.25 -> 2, 0.1 -> 1)
function decimalsFor(ticks) {
  for (let p = 0; p < 4; p++) {
    if (ticks.every(t => Math.abs(Math.round(t * 10 ** p) - t * 10 ** p) < 1e-9)) return p;
  }
  return 3;
}

// the figure is laid out in 5150x1950 units and stretched to fill the window
const svg = d3.select('#chart').append('svg')
  .attr('viewBox', `0 0 ${width} ${height}`)
  .attr('preserveAspectRatio', 'none');
svg.append('rect').attr('width', width).attr('height', height).attr('fill', '#fff');

const t0 = Date.UTC(2019, 0, 1);
const toDate = d => new Date(t0 + d * 864e5);
const x = d3.scaleUtc().domain([toDate(0), toDate(364)]).range([0, axW]);

panels.forEach((p, i) => {
  const g = svg.append('g')
    .attr('transform', `translate(${colX[i % 2]},${rowY(Math.floor(i / 2))})`);
  const y = d3.scaleLinear().domain(p.lim).range([axH, 0]);
  const fmt = d3.format('.' + decimalsFor(p.ticks) + 'f');

  g.append('clipPath').attr('id', 'clip' + i)
    .append('rect').attr('width', axW).attr('height', axH);

  const line = d3.line()
    .x(d => x(toDate(d[0])))
    .y(d => y(d[1]))
    .curve(d3.curveMonotoneX);

  const plot = g.append('g').attr('clip-path', `url(#clip${i})`);
  if (p.obs.length) {
    plot.append('path').datum(p.obs)
      .attr('d', line)
      .attr('fill', 'none')
      .attr('stroke', colors.obs)
      .attr('stroke-width', 2.3)
      .attr('stroke-dasharray', obsDash)
      .attr('stroke-linejoin', 'round');
  }
  plot.append('path').datum(p.model)
    .attr('d', line)
    .attr('fill', 'none')
    .attr('stroke', colors.online)
    .attr('stroke-width', 1.55)
    .attr('stroke-linejoin', 'round');

  // axes
  const xAxis = g.append('g')
    .attr('transform', `translate(0,${axH})`)
    .call(d3.axisBottom(x)
      .ticks(d3.utcMonth.every(1))
      .tickFormat(d3.utcFormat('%-m'))
      .tickSizeInner(4.9).tickSizeOuter(0).tickPadding(6.5));
  const yAxis = g.append('g')
    .call(d3.axisLeft(y)
      .tickValues(p.ticks)
      .tickFormat(fmt)
      .tickSizeInner(4.9).tickSizeOuter(0).tickPadding(4.9));
  [xAxis, yAxis].forEach(a => {
    a.attr('font-size', fs).attr('font-family', '"DejaVu Sans", sans-serif');
    a.select('.domain').remove();
    a.selectAll('.tick line').attr('stroke', '#000').attr('stroke-width', 1.1);
    a.selectAll('.tick text').attr('fill', '#000');
  });

  g.append('rect')
    .attr('width', axW).attr('height', axH)
    .attr('fill', 'none').attr('stroke', '#000').attr('stroke-width', 1.2);

  g.append('text')
    .attr('x', axW / 2).attr('y', -8)
    .attr('text-anchor', 'middle')
    .attr('font-size', 16.7)
    .text(p.title);

  if (i % 2 === 0) {
    g.append('text')
      .attr('transform', `translate(${21 - colX[0]},${axH / 2}) rotate(-90)`)
      .attr('text-anchor', 'middle')
      .attr('dy', '0.35em')
      .attr('font-size', fs)
      .text('Elevation (m)');
  }

  if (i === 0) {
    const lw = 160, lh = 67;
    const lg = g.append('g').attr('transform', `translate(${axW - 7 - lw},6.7)`);
    lg.append('rect')
      .attr('width', lw).attr('height', lh).attr('rx', 2.8)
      .attr('fill', '#fff').attr('fill-opacity', 0.8)
      .attr('stroke', '#cccccc').attr('stroke-width', 1.1);
    const styles = [
      {color: colors.obs, w: 2.3, dash: obsDash},
      {color: colors.run, w: 1.5, dash: null},
      {color: colors.online, w: 1.5, dash: null}
    ];
    seriesNames.forEach((name, k) => {
      const cy = 12 + k * 21.2;
      lg.append('line')
        .attr('x1', 5).attr('x2', 33.3).attr('y1', cy).attr('y2', cy)
        .attr('stroke', styles[k].color)
        .attr('stroke-width', styles[k].w)
        .attr('stroke-dasharray', styles[k].dash);
      lg.append('text')
        .attr('x', 44).attr('y', cy).attr('dy', '0.35em')
        .attr('font-size', fs)
        .text(name);
    });
  }
});
</script>
</body>
</html>
